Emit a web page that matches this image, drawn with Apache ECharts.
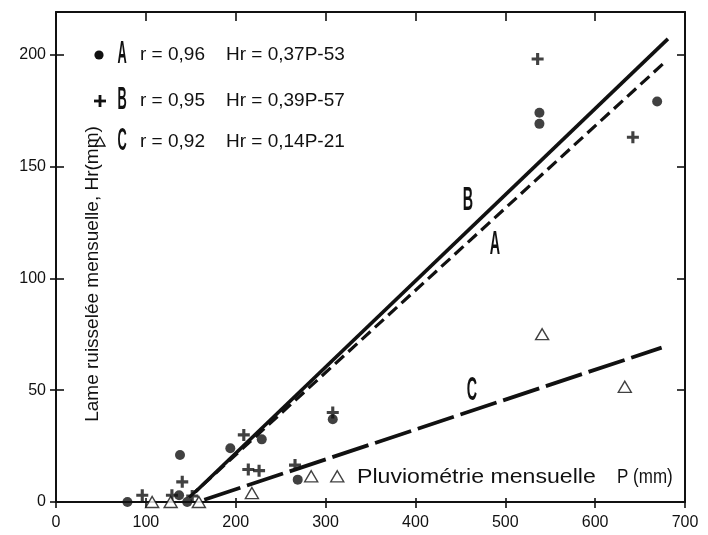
<!DOCTYPE html>
<html>
<head>
<meta charset="utf-8">
<script src="https://cdn.jsdelivr.net/npm/echarts@6/dist/echarts.min.js"></script>
<style>
html, body { margin: 0; padding: 0; background: #fff; }
#chart { width: 708px; height: 535px; }
</style>
</head>
<body>
<div id="chart"></div>
<script>
// Monthly runoff depth Hr (mm) against monthly rainfall P (mm), three stations A, B, C
const seriesNames = ['A', 'B', 'C'];

// observed months: [P (mm), Hr (mm)]
const pointsA = [[79.5, 0], [137, 3], [146, 0], [138, 21], [194, 24], [229, 28], [269, 10], [308, 37], [538, 174], [538, 169], [669, 179]];
const pointsB = [[96, 3], [129, 3], [140.5, 9], [151.6, 2.7], [209, 30], [214, 14.5], [226, 14], [266, 16.5], [308, 40], [536, 198], [642, 163]];
const pointsC = [[107, 0], [127.6, 0], [159, 0], [218, 4], [284, 11.5], [313, 11.5], [541, 75], [633, 51.5]];

// fitted regression lines, end points [P, Hr]
const lineA = [[148, 2], [676, 196]];
const lineB = [[155, 4.5], [681, 207]];
const lineC = [[165, 1], [674, 69]];

// correlation coefficients and regression equations
const rValues = ['0,96', '0,95', '0,92'];
const equations = ['0,37P-53', '0,39P-57', '0,14P-21'];

// axis ticks
const xTicks = [0, 100, 200, 300, 400, 500, 600, 700];
const yTicks = [0, 50, 100, 150, 200];

const FONT = '"Liberation Sans", Arial, sans-serif';
const INK = '#111';

const chart = echarts.init(document.getElementById('chart'), null, { renderer: 'canvas' });

const plusPath = 'path://M3.7,0H6.3V3.7H10V6.3H6.3V10H3.7V6.3H0V3.7H3.7Z';

const xMin = xTicks[0], xMax = xTicks[xTicks.length - 1];
const xStep = xTicks[1] - xTicks[0];
const yMin = yTicks[0], yTop = 219;

function xAxisDef(extra) {
  return Object.assign({
    type: 'value', min: xMin, max: xMax, interval: xStep,
    splitLine: { show: false },
    axisLine: { show: false, onZero: false },
    axisTick: { show: false },
    axisLabel: { show: false }
  }, extra);
}
function yAxisDef(extra) {
  return Object.assign({
    type: 'value', min: yMin, max: yTop,
    splitLine: { show: false },
    axisLine: { show: false, onZero: false },
    axisTick: { show: false, customValues: yTicks },
    axisLabel: { show: false, customValues: yTicks }
  }, extra);
}

const lineStyleAxis = { color: INK, width: 2 };
const tickStyle = { color: INK, width: 1.6 };

// graphic legend rows
const legendY = [55, 101, 142];
const legendGraphics = [];
legendGraphics.push({ type: 'circle', shape: { cx: 99, cy: legendY[0], r: 4.6 }, style: { fill: INK } });
legendGraphics.push({ type: 'rect', shape: { x: 94, y: legendY[1] - 1.4, width: 12, height: 2.8 }, style: { fill: INK } });
legendGraphics.push({ type: 'rect', shape: { x: 98.6, y: legendY[1] - 6, width: 2.8, height: 12 }, style: { fill: INK } });
legendGraphics.push({ type: 'polygon', shape: { points: [[100, legendY[2] - 5], [95, legendY[2] + 4], [105, legendY[2] + 4]] }, style: { fill: '#fff', stroke: INK, lineWidth: 1.3 } });
seriesNames.forEach(function (name, i) {
  legendGraphics.push({
    type: 'text', x: 122, y: legendY[i] - 1, scaleX: 0.4,
    style: { text: name, font: 'bold 32px ' + FONT, fill: INK, align: 'center', verticalAlign: 'middle' }
  });
  legendGraphics.push({
    type: 'text', x: 140, y: legendY[i],
    style: { text: 'r = ' + rValues[i], font: '19px ' + FONT, fill: INK, align: 'left', verticalAlign: 'middle' }
  });
  legendGraphics.push({
    type: 'text', x: 226, y: legendY[i],
    style: { text: 'Hr = ' + equations[i], font: '19px ' + FONT, fill: INK, align: 'left', verticalAlign: 'middle' }
  });
});

// letters naming each regression line
const lineLabels = [
  { text: 'B', x: 468, y: 201 },
  { text: 'A', x: 495, y: 245 },
  { text: 'C', x: 472, y: 391 }
].map(function (l) {
  return {
    type: 'text', x: l.x, y: l.y, scaleX: 0.42,
    style: { text: l.text, font: 'bold 34px ' + FONT, fill: INK, align: 'center', verticalAlign: 'middle' }
  };
});

const option = {
  animation: false,
  backgroundColor: '#fff',
  grid: { left: 56, right: 23, top: 12, bottom: 33, containLabel: false },
  xAxis: [
    xAxisDef({
      position: 'bottom',
      axisLine: { show: true, onZero: false, lineStyle: lineStyleAxis },
      axisTick: { show: true, length: 6, lineStyle: tickStyle },
      axisLabel: { show: true, margin: 13, fontSize: 16, color: INK, fontFamily: FONT }
    }),
    xAxisDef({ position: 'bottom', axisTick: { show: true, inside: true, length: 4, lineStyle: tickStyle } }),
    xAxisDef({
      position: 'top',
      axisLine: { show: true, onZero: false, lineStyle: lineStyleAxis },
      axisTick: { show: true, inside: true, length: 9, lineStyle: tickStyle }
    })
  ],
  yAxis: [
    yAxisDef({
      position: 'left',
      axisLine: { show: true, onZero: false, lineStyle: lineStyleAxis },
      axisTick: { show: true, length: 6, lineStyle: tickStyle, customValues: yTicks },
      axisLabel: { show: true, margin: 10, fontSize: 16, color: INK, fontFamily: FONT, customValues: yTicks }
    }),
    yAxisDef({ position: 'left', axisTick: { show: true, inside: true, length: 8, lineStyle: tickStyle, customValues: yTicks } }),
    yAxisDef({
      position: 'right',
      axisLine: { show: true, onZero: false, lineStyle: lineStyleAxis },
      axisTick: { show: true, inside: true, length: 8, lineStyle: tickStyle, customValues: yTicks }
    })
  ],
  series: [
    {
      name: 'B droite', type: 'line', data: lineB, symbol: 'none', silent: true,
      lineStyle: { color: INK, width: 3.6, type: 'solid', cap: 'butt' }, z: 2
    },
    {
      name: 'A droite', type: 'line', data: lineA, symbol: 'none', silent: true,
      lineStyle: { color: INK, width: 3.2, type: [12, 6], cap: 'butt' }, z: 2
    },
    {
      name: 'C droite', type: 'line', data: lineC, symbol: 'none', silent: true,
      lineStyle: { color: INK, width: 3.8, type: [38, 7], cap: 'butt' }, z: 2
    },
    {
      name: seriesNames[0], type: 'scatter', data: pointsA, clip: false,
      symbol: 'circle', symbolSize: 10, itemStyle: { color: INK }, z: 3
    },
    {
      name: seriesNames[1], type: 'scatter', data: pointsB, clip: false,
      symbol: plusPath, symbolSize: 12, itemStyle: { color: INK }, z: 3
    },
    {
      name: seriesNames[2], type: 'scatter', data: pointsC, clip: false,
      symbol: 'triangle', symbolSize: [13, 11],
      itemStyle: { color: '#fff', borderColor: INK, borderWidth: 1.4 }, z: 3
    }
  ],
  graphic: [
    {
      type: 'text', x: 93, y: 274, rotation: Math.PI / 2,
      style: { text: 'Lame ruisselée mensuelle, Hr(mm)', font: '19px ' + FONT, fill: INK, align: 'center', verticalAlign: 'middle' }
    },
    {
      type: 'text', x: 357, y: 477, scaleX: 1.1,
      style: { text: 'Pluviométrie mensuelle', font: '21px ' + FONT, fill: INK, align: 'left', verticalAlign: 'middle' }
    },
    {
      type: 'text', x: 617, y: 477, scaleX: 0.85,
      style: { text: 'P (mm)', font: '20px ' + FONT, fill: INK, align: 'left', verticalAlign: 'middle' }
    }
  ].concat(legendGraphics, lineLabels)
};

chart.setOption(option);
</script>
</body>
</html>
